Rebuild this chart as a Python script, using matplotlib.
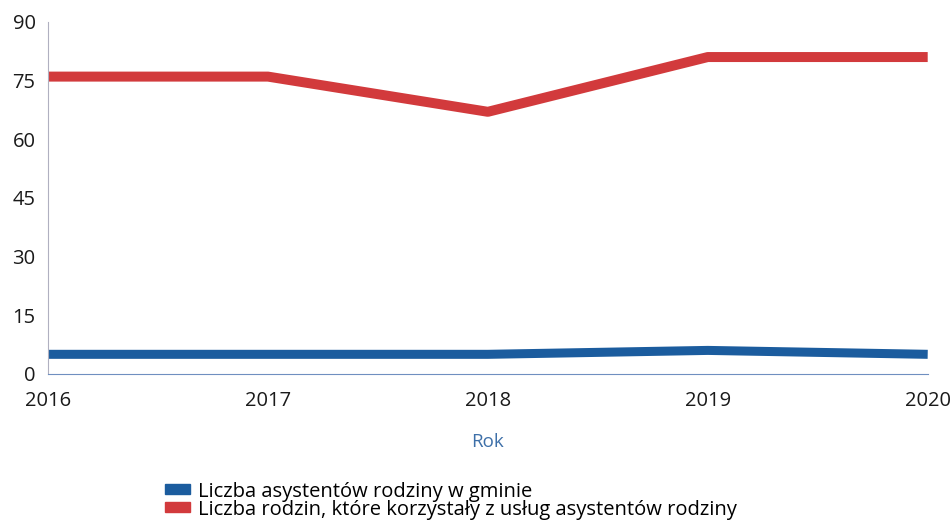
import matplotlib
matplotlib.use('Agg')
import matplotlib.pyplot as plt
from matplotlib.patches import Patch

plt.rcParams['font.family'] = ['Open Sans', 'DejaVu Sans']

years = [2016, 2017, 2018, 2019, 2020]
asystenci = [5, 5, 5, 6, 5]
rodziny = [76, 76, 67, 81, 81]
y_ticks = [0, 15, 30, 45, 60, 75, 90]

blue = '#1b5c9e'
red = '#d23a3c'

fig = plt.figure(figsize=(9.51, 5.20), dpi=100)
ax = fig.add_axes([0.0505, 0.281, 0.925, 0.677])

ax.plot(years, asystenci, color=blue, linewidth=6.5, solid_capstyle='butt')
ax.plot(years, rodziny, color=red, linewidth=7.2, solid_capstyle='butt')

ax.set_xlim(2016, 2020)
ax.set_ylim(0, 90)
ax.set_yticks(y_ticks)
ax.set_xticks(years)
ax.tick_params(length=0, labelsize=14.5, colors='#1a1a1a')
ax.tick_params(axis='y', pad=9)
ax.tick_params(axis='x', pad=12)

for s in ['top', 'right']:
    ax.spines[s].set_visible(False)
ax.spines['left'].set_color('#b0b0c0')
ax.spines['left'].set_linewidth(0.8)
ax.spines['bottom'].set_color('#6f8fc0')
ax.spines['bottom'].set_linewidth(0.8)

ax.set_xlabel('Rok', color='#3d6fa8', fontsize=13.5, labelpad=16)

handles = [Patch(color=blue, label='Liczba asystentów rodziny w gminie'),
           Patch(color=red, label='Liczba rodzin, które korzystały z usług asystentów rodziny')]
fig.legend(handles=handles, loc='upper left', bbox_to_anchor=(0.174, 0.074),
           frameon=False, fontsize=14.5, handlelength=1.2, handleheight=0.4,
           handletextpad=0.4, labelspacing=-0.1, borderaxespad=0, borderpad=0)

plt.savefig('out.png', dpi=100)
